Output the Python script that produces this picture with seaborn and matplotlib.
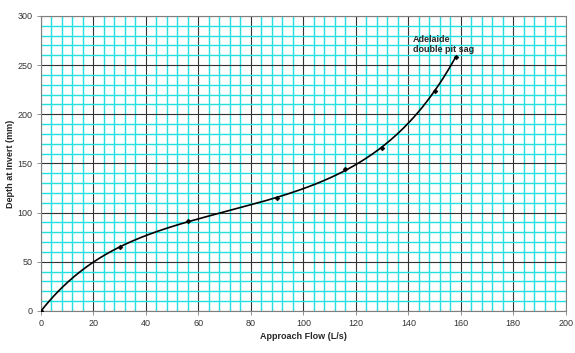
import numpy as np
import pandas as pd
import matplotlib
matplotlib.use('Agg')
import matplotlib.pyplot as plt
from matplotlib.ticker import MultipleLocator
import seaborn as sns

# measured points
flow = [0, 30, 56, 90, 116, 130, 150, 158]
depth = [0, 65, 91, 115, 144, 166, 224, 258]

sns.set_style('white')
plt.rcParams['font.family'] = ['Liberation Sans', 'DejaVu Sans']

pts = pd.DataFrame({'flow': flow, 'depth': depth})

# smooth trend through the points
coef = np.polyfit(flow, depth, 5)
xs = np.linspace(0, max(flow), 200)
fit = pd.DataFrame({'flow': xs, 'depth': np.polyval(coef, xs)})

fig = plt.figure(figsize=(5.75, 3.53), dpi=100)
ax = fig.add_axes([0.0713, 0.119, 0.9127, 0.836])

ax.set_xlim(0, 200)
ax.set_ylim(0, 300)
ax.xaxis.set_major_locator(MultipleLocator(20))
ax.xaxis.set_minor_locator(MultipleLocator(4))
ax.yaxis.set_major_locator(MultipleLocator(50))
ax.yaxis.set_minor_locator(MultipleLocator(10))
ax.grid(which='minor', color='#22e0e0', linewidth=1.0)
ax.grid(which='major', color='#333333', linewidth=0.8)
ax.set_axisbelow(True)

sns.lineplot(data=fit, x='flow', y='depth', ax=ax, color='black', linewidth=1.2)
sns.scatterplot(data=pts, x='flow', y='depth', ax=ax, color='black', marker='D',
                s=7, edgecolor='black', zorder=5)

ax.text(141.7, 281, 'Adelaide\ndouble pit sag', fontsize=6.5, fontweight='bold',
        va='top', ha='left', linespacing=1.15)

ax.set_xlabel('Approach Flow (L/s)', fontsize=6.5, fontweight='bold', labelpad=3)
ax.set_ylabel('Depth at Invert (mm)', fontsize=6.5, fontweight='bold', labelpad=2)
ax.tick_params(which='major', labelsize=6.5, labelcolor='#333333', length=3,
               width=0.6, color='#808080', direction='out', pad=3)
ax.tick_params(which='minor', length=0)
ax.tick_params(axis='x', bottom=True)
ax.tick_params(axis='y', left=True)
for s in ax.spines.values():
    s.set_color('#808080')
    s.set_linewidth(0.8)

fig.savefig('out.png', dpi=100)
